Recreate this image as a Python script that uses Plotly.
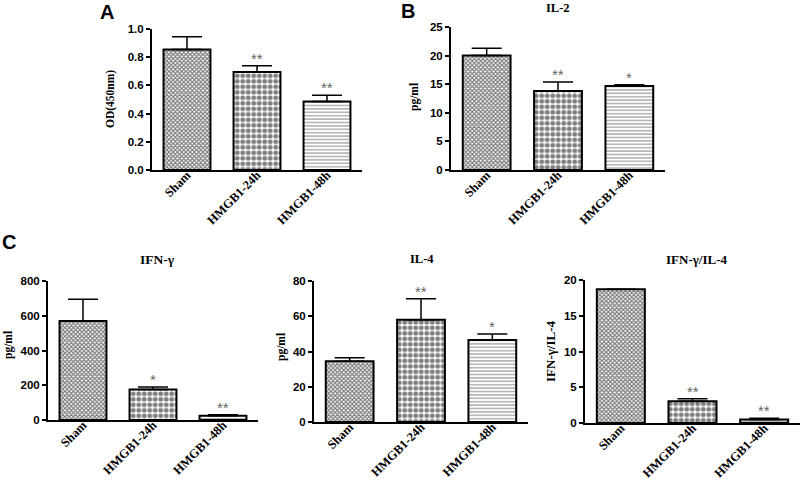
import plotly.graph_objects as go

# groups shared by every panel
groups = ["Sham", "HMGB1-24h", "HMGB1-48h"]

# A: cell proliferation OD(450nm)
od_mean = [0.855, 0.695, 0.485]
od_err = [0.09, 0.045, 0.045]
od_sig = ["", "**", "**"]

# B: IL-2 pg/ml
il2_mean = [20.0, 13.8, 14.7]
il2_err = [1.3, 1.6, 0.2]
il2_sig = ["", "**", "*"]

# C: IFN-gamma pg/ml
ifn_mean = [570, 175, 25]
ifn_err = [125, 15, 5]
ifn_sig = ["", "*", "**"]

# C: IL-4 pg/ml
il4_mean = [34.5, 58.0, 46.5]
il4_err = [2.0, 12.0, 3.5]
il4_sig = ["", "**", "*"]

# C: IFN-gamma / IL-4 ratio
ratio_mean = [18.7, 3.05, 0.5]
ratio_err = [0.0, 0.35, 0.15]
ratio_sig = ["", "**", "**"]

W, H = 803, 481
SERIF = "Liberation Serif"
SANS = "Liberation Sans"


def px_x(v):
    return v / W


def px_y(v):
    return 1 - v / H


# fill pattern per group: fine checks, coarse checks, horizontal lines
patterns = [
    dict(shape="x", size=3, solidity=0.65, fgcolor="black", bgcolor="white"),
    dict(shape=".", size=5.5, solidity=0.6, fgcolor="black", bgcolor="white"),
    dict(shape="-", size=3.4, solidity=0.35, fgcolor="#333333", bgcolor="white"),
]

panels = [
    dict(mean=od_mean, err=od_err, sig=od_sig, ymax=1.0, dtick=0.2, fmt=".1f",
         ytitle="OD(450nm)", ytitle_xy=(110, 99), ytitle_size=11.5,
         title=None, title_xy=None, title_size=None, xdom=(152, 362), ydom=(170, 29)),
    dict(mean=il2_mean, err=il2_err, sig=il2_sig, ymax=25, dtick=5, fmt="d",
         ytitle="pg/ml", ytitle_xy=(415, 97), ytitle_size=11.5,
         title="IL-2", title_xy=(558, 8), title_size=12.5, xdom=(451, 665), ydom=(170, 27)),
    dict(mean=ifn_mean, err=ifn_err, sig=ifn_sig, ymax=800, dtick=200, fmt="d",
         ytitle="pg/ml", ytitle_xy=(8, 345), ytitle_size=11.5,
         title="IFN-γ", title_xy=(157, 259), title_size=13.5, xdom=(48, 258), ydom=(420, 281)),
    dict(mean=il4_mean, err=il4_err, sig=il4_sig, ymax=80, dtick=20, fmt="d",
         ytitle="pg/ml", ytitle_xy=(281, 347), ytitle_size=11.5,
         title="IL-4", title_xy=(422, 259), title_size=12.5, xdom=(314, 528), ydom=(422, 281)),
    dict(mean=ratio_mean, err=ratio_err, sig=ratio_sig, ymax=20, dtick=5, fmt="d",
         ytitle="IFN-γ/IL-4", ytitle_xy=(550, 352), ytitle_size=13,
         title="IFN-γ/IL-4", title_xy=(696, 259), title_size=13, xdom=(585, 800), ydom=(423, 280)),
]

fig = go.Figure()
annotations = []
layout_axes = {}

for i, p in enumerate(panels, start=1):
    xa = "x" if i == 1 else f"x{i}"
    ya = "y" if i == 1 else f"y{i}"
    for g, m, e, pat in zip(groups, p["mean"], p["err"], patterns):
        fig.add_trace(go.Bar(
            x=[g], y=[m], xaxis=xa, yaxis=ya, showlegend=False, hoverinfo="skip",
            marker=dict(color="white", pattern=pat, line=dict(color="black", width=2)),
            error_y=dict(type="data", symmetric=False, array=[e], arrayminus=[0],
                         color="black", thickness=1.5, width=15),
        ))
    for g, m, e, s in zip(groups, p["mean"], p["err"], p["sig"]):
        if s:
            annotations.append(dict(
                x=g, y=m + e, xref=xa, yref=ya, text=s, showarrow=False,
                xanchor="center", yanchor="bottom", yshift=-3,
                font=dict(family=SANS, size=15, color="#666666"),
            ))
    annotations.append(dict(
        x=px_x(p["ytitle_xy"][0]), y=px_y(p["ytitle_xy"][1]), xref="paper", yref="paper",
        text=p["ytitle"], textangle=-90, showarrow=False,
        xanchor="center", yanchor="middle",
        font=dict(family=SERIF, size=p["ytitle_size"], color="black", weight="bold"),
    ))
    if p["title"]:
        annotations.append(dict(
            x=px_x(p["title_xy"][0]), y=px_y(p["title_xy"][1]), xref="paper", yref="paper",
            text=p["title"], showarrow=False, xanchor="center", yanchor="middle",
            font=dict(family=SERIF, size=p["title_size"], color="black", weight="bold"),
        ))
    key = "" if i == 1 else str(i)
    layout_axes["xaxis" + key] = dict(
        domain=[px_x(p["xdom"][0]), px_x(p["xdom"][1])], anchor=ya,
        type="category", range=[-0.5, 2.5], showline=True, linecolor="black",
        linewidth=2, ticks="", ticklen=0, tickangle=-45, ticklabelstandoff=-9,
        showgrid=False, zeroline=False, automargin=False, fixedrange=True,
        tickfont=dict(family=SERIF, size=12.5, color="black", weight="bold"),
    )
    layout_axes["yaxis" + key] = dict(
        domain=[px_y(p["ydom"][0]), px_y(p["ydom"][1])], anchor=xa,
        range=[0, p["ymax"]], dtick=p["dtick"], tick0=0, tickformat=p["fmt"],
        showline=True, linecolor="black", linewidth=2, ticks="outside",
        ticklen=4, tickwidth=1.5, tickcolor="black", showgrid=False, zeroline=False,
        tickfont=dict(family=SANS, size=11.5, color="black", weight="bold"),
        automargin=False, fixedrange=True,
    )

# panel letters
for letter, (lx, ly) in zip(["A", "B", "C"], [(107, 12), (408, 11), (9, 242)]):
    annotations.append(dict(
        x=px_x(lx), y=px_y(ly), xref="paper", yref="paper", text=letter,
        showarrow=False, xanchor="center", yanchor="middle",
        font=dict(family=SANS, size=20, color="black", weight="bold"),
    ))

fig.update_layout(
    width=W, height=H, margin=dict(l=0, r=0, t=0, b=0),
    paper_bgcolor="white", plot_bgcolor="white",
    bargap=0.33, annotations=annotations, **layout_axes,
)

# the page body has a default 8px margin; drop it so the figure sits at the corner
fig.write_html("out.html", config={"displayModeBar": False},
               post_script="document.body.style.margin='0';")
